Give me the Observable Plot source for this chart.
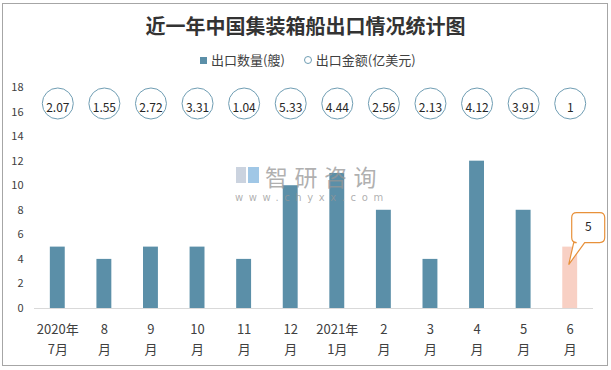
<!DOCTYPE html>
<html>
<head>
<meta charset="utf-8">
<script src="https://cdn.jsdelivr.net/npm/d3@7"></script>
<script src="https://cdn.jsdelivr.net/npm/@observablehq/plot@0.6"></script>
<style>
  html, body { margin: 0; padding: 0; background: #fff; }
  #wrap { position: relative; width: 611px; height: 370px; overflow: hidden; font-family: "Noto Sans CJK SC", sans-serif; }
  #frame { position: absolute; left: 2px; top: 3px; width: 604px; height: 361px; border: 1px solid #a6a6a6; pointer-events: none; }
  #title { position: absolute; left: 0; top: 12px; width: 611px; text-align: center; padding-left: 0px; box-sizing: border-box;
           font-size: 20px; font-weight: bold; color: #333; line-height: 28px; }
  #legend { position: absolute; top: 51px; left: 200px; font-size: 13px; color: #404040; line-height: 18px; white-space: nowrap; }
  #legend span.sw { display: inline-block; width: 7px; height: 7px; background: #5B8FA8; vertical-align: middle; margin-right: 4px; position: relative; top: -1px; }
  #legend span.ci { display: inline-block; width: 6px; height: 6px; border: 1.2px solid #6f9db3; border-radius: 50%; vertical-align: middle; margin-left: 19px; margin-right: 4px; position: relative; top: -1px; }
  .wm1 { position: absolute; left: 265px; top: 162px; font-size: 23px; letter-spacing: 6.5px; color: rgba(150,150,150,0.75); line-height: 28px; white-space: nowrap; }
  .wm2 { position: absolute; left: 235px; top: 190px; font-family: "DejaVu Sans", sans-serif; font-size: 10px; letter-spacing: 5.6px; color: rgba(150,150,150,0.75); line-height: 16px; white-space: nowrap; }
  .logoA { position: absolute; left: 236px; top: 167px; width: 10px; height: 16px; background: rgba(190,200,215,0.8); }
  .logoB { position: absolute; left: 248px; top: 167px; width: 11px; height: 16px; background: rgba(120,175,220,0.7); }
</style>
</head>
<body>
<div id="wrap">
  <div id="chart"></div>
  <div id="title">近一年中国集装箱船出口情况统计图</div>
  <div id="legend"><span class="sw"></span>出口数量(艘)<span class="ci"></span>出口金额(亿美元)</div>
  <div class="logoA"></div><div class="logoB"></div>
  <div class="wm1">智研咨询</div>
  <div class="wm2">www.chyxx.com</div>
  <div id="frame"></div>
</div>
<script>
// ---- data ----
const months = ["2020年\n7月", "8\n月", "9\n月", "10\n月", "11\n月", "12\n月",
                "2021年\n1月", "2\n月", "3\n月", "4\n月", "5\n月", "6\n月"];
const counts = [5, 4, 5, 5, 4, 10, 11, 8, 4, 12, 8, 5];
const amounts = [2.07, 1.55, 2.72, 3.31, 1.04, 5.33, 4.44, 2.56, 2.13, 4.12, 3.91, 1];
const yTicks = [0, 2, 4, 6, 8, 10, 12, 14, 16, 18];
const highlightIndex = 11;

const barColor = "#5B8FA8";
const highlightColor = "#F8D0C4";
const circleStroke = "#6f9db3";
const textColor = "#404040";

const data = months.map((m, i) => ({month: m, count: counts[i], amount: amounts[i], hl: i === highlightIndex}));
const callout = data.filter(d => d.hl);

const chart = Plot.plot({
  width: 611,
  height: 370,
  marginLeft: 34,
  marginRight: 18,
  marginTop: 87,
  marginBottom: 62,
  style: {fontFamily: "'Noto Sans CJK SC', sans-serif", color: textColor, background: "transparent", overflow: "visible"},
  x: {domain: months, paddingInner: 0.68, paddingOuter: 0.34, round: false, label: null},
  y: {domain: [0, 18], label: null},
  marks: [
    Plot.axisY({ticks: yTicks, tickSize: 0, tickPadding: 11, fontSize: 11, fill: textColor}),
    Plot.axisX({tickSize: 0, tickPadding: 11, fontSize: 13, lineHeight: 1.54, fill: textColor}),
    Plot.ruleY([0], {stroke: "#d9d9d9", strokeWidth: 1}),
    Plot.barY(data, {x: "month", y: "count", fill: d => d.hl ? highlightColor : barColor}),
    Plot.dot(data, {x: "month", frameAnchor: "top", dy: 16, r: 15.5, stroke: circleStroke, strokeWidth: 1, fill: "white"}),
    Plot.text(data, {x: "month", frameAnchor: "top", dy: 16, text: d => String(d.amount), fontSize: 12, fill: "#262626"}),
    Plot.text(callout, {x: "month", y: "count", text: d => String(d.count), dx: 18, dy: -20, fontSize: 12, fill: "#262626"})
  ]
});
document.getElementById("chart").appendChild(chart);

// Callout box drawn with the chart's own scales
const sx = chart.scale("x"), sy = chart.scale("y");
const svg = d3.select(chart.tagName.toLowerCase() === "svg" ? chart : chart.querySelector("svg"));
callout.forEach(d => {
  const cx = sx.apply(d.month) + sx.bandwidth / 2;
  const ty = sy.apply(d.count);
  const L = cx + 2, R = cx + 35, T = ty - 34, B = ty - 4, r = 5;
  const p0 = cx + 4, p1 = cx + 15, tipX = cx - 1, tipY = ty + 18;
  const path = `M${L + r},${T} H${R - r} Q${R},${T} ${R},${T + r} V${B - r} Q${R},${B} ${R - r},${B}` +
               ` H${p1} L${tipX},${tipY} L${p0},${B} H${L + r} Q${L},${B} ${L},${B - r} V${T + r} Q${L},${T} ${L + r},${T} Z`;
  svg.insert("path", "g[aria-label='text']:last-of-type")
    .attr("d", path).attr("fill", "white").attr("stroke", "#E8913A").attr("stroke-width", 1.2);
});
// ensure callout text on top
const texts = svg.selectAll("g[aria-label='text']").nodes();
if (texts.length) svg.node().appendChild(texts[texts.length - 1]);
</script>
</body>
</html>
